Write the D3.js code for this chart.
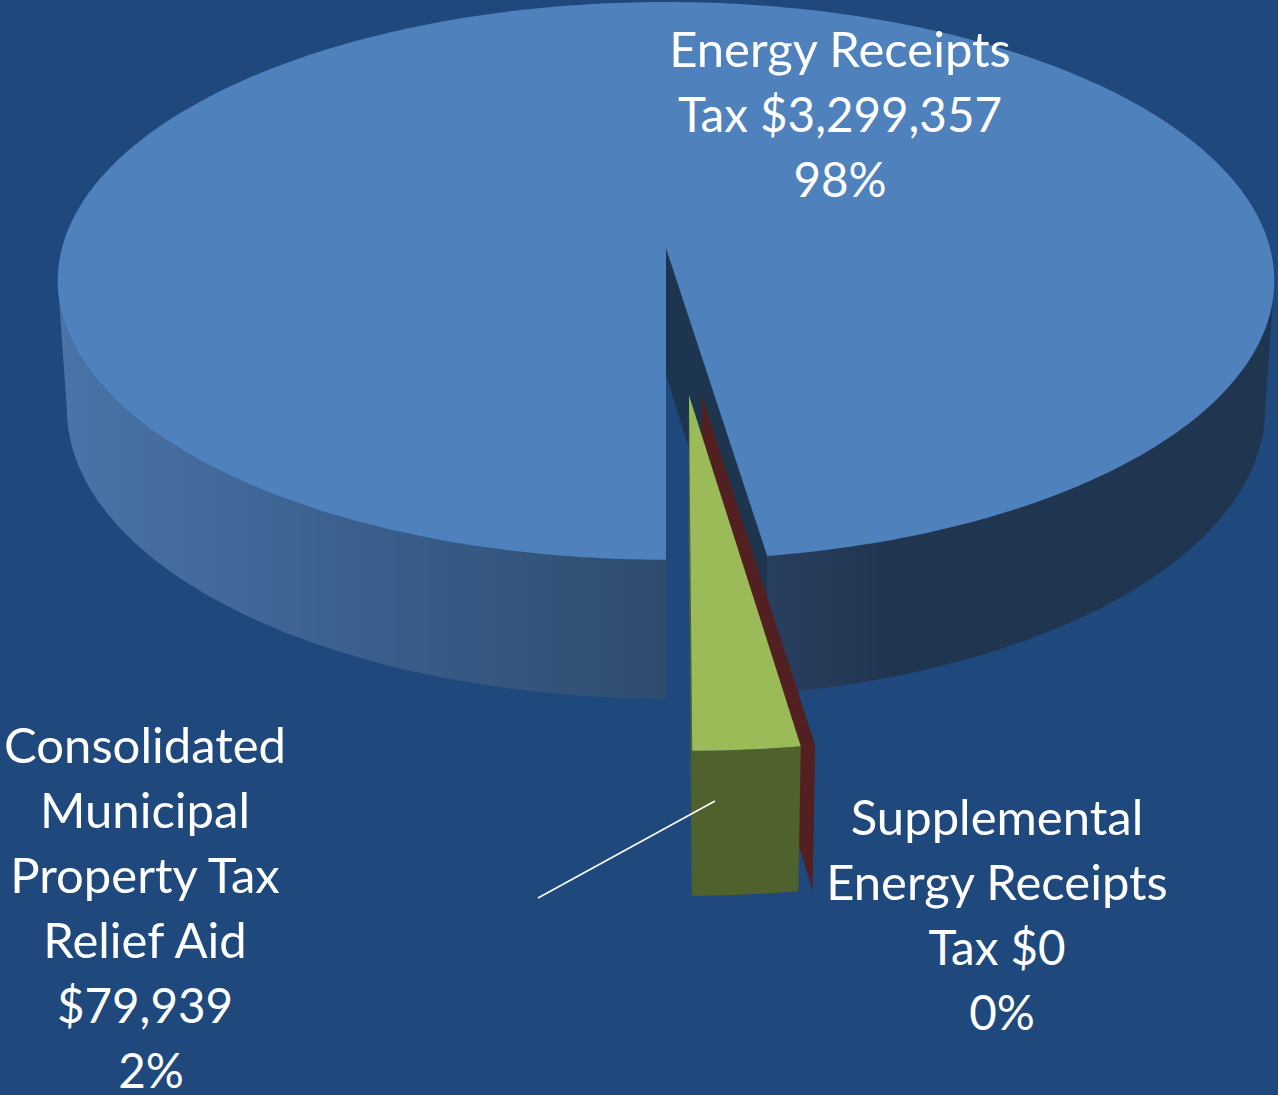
<!DOCTYPE html>
<html><head><meta charset="utf-8">
<script src="https://cdn.jsdelivr.net/npm/d3@7"></script>
<style>html,body{margin:0;padding:0;background:#1f497d}svg{display:block}</style>
</head><body><svg id="c" width="1278" height="1095"></svg>
<script>
const categories = ["Energy Receipts Tax", "Supplemental Energy Receipts Tax", "Consolidated Municipal Property Tax Relief Aid"];
const values = [3299357, 0, 79939];
const labelLines = [
  ["Energy Receipts", "Tax $3,299,357", "98%"],
  ["Supplemental", "Energy Receipts", "Tax $0", "0%"],
  ["Consolidated", "Municipal", "Property Tax", "Relief Aid", "$79,939", "2%"]
];
const labelCentres = [[840,840,840],[997,997,997,1002],[145,145,145,145,145,151]];
const labelFirstBaseline = [67,835,763];
const topColours = ["#4f81bd","#522020","#9bbb59"];
const explodeRadius = [0,0.505,0.505];
const explodeAngleOffset = [0,2.2*Math.PI/180,0.2*Math.PI/180];

const W=1278,H=1095, FS=49, FS_NUM=47.5, LH=65;
const svg=d3.select("#c");
svg.append("rect").attr("width",W).attr("height",H).attr("fill","#1f497d");

// perspective projection of a disc (u,v) at depth h (0 top, 1 bottom)
const p=0.118,q=0.015;
const sx=d3.scaleLinear([-1,1],[666-604,666+604]);
const sy=d3.scaleLinear([-1,1],[248-275,248+275]);
const depth=129;
function proj(u,v,h){const w=1-p*v+q*h;return [sx(u/w), sy(v/w)+depth*h/w];}

const arcs=d3.pie().sort(null).startAngle(Math.PI).endAngle(3*Math.PI)(values);
arcs.forEach((a,i)=>{
  const mid=(a.startAngle+a.endAngle)/2+explodeAngleOffset[i];
  a.du=explodeRadius[i]*Math.sin(mid);
  a.dv=-explodeRadius[i]*Math.cos(mid);
});
const rim=(a,t,h)=>proj(a.du+Math.sin(t),a.dv-Math.cos(t),h);
const apex=(a,h)=>proj(a.du,a.dv,h);
const line=d3.line();
const poly=(pts,fill)=>svg.append("path").attr("d",line(pts)+"Z").attr("fill",fill);
const STEP=Math.PI/180;
const sweepRange=(t0,t1)=>{const n=Math.max(1,Math.ceil(Math.abs(t1-t0)/STEP));
  return d3.range(n+1).map(k=>t0+(t1-t0)*k/n);};
const sweep=a=>sweepRange(a.startAngle,a.endAngle);

const [energy,supp,cons]=arcs;

// wall gradients
const defs=svg.append("defs");
function gradient(id,x1,x2,stops){
  const g=defs.append("linearGradient").attr("id",id).attr("gradientUnits","userSpaceOnUse")
    .attr("x1",x1).attr("x2",x2).attr("y1",0).attr("y2",0);
  g.selectAll("stop").data(stops).join("stop")
    .attr("offset",d=>d[0]).attr("stop-color",d=>d[1]);
}
gradient("wallL",60,666,[[0,"#4a74a8"],[0.5,"#3a5f8d"],[1,"#2e4c6e"]]);
gradient("wallR",767,1275,[[0,"#293f5e"],[0.25,"#1f3550"],[1,"#1f3550"]]);

// Energy slice: outer wall up to the silhouette point on each side, cut wall, top
const silhouette=Math.acos(-p);
const leftT=sweepRange(Math.PI,2*Math.PI-silhouette);
poly([...leftT.map(t=>rim(energy,t,0)),...leftT.slice().reverse().map(t=>rim(energy,t,1))],"url(#wallL)");
const rightT=sweepRange(energy.endAngle,2*Math.PI+silhouette);
poly([...rightT.map(t=>rim(energy,t,0)),...rightT.slice().reverse().map(t=>rim(energy,t,1))],"url(#wallR)");
poly([apex(energy,0),rim(energy,energy.endAngle,0),rim(energy,energy.endAngle,1),apex(energy,1)],"#1e3550");
poly([apex(energy,0),...sweep(energy).map(t=>rim(energy,t,0))],topColours[0]);

// Zero-value slice: only its cut wall shows
poly([apex(supp,0),rim(supp,supp.startAngle,0),rim(supp,supp.startAngle,1),apex(supp,1)],topColours[1]);

// Consolidated slice
const dark="#4f612c";
poly([apex(cons,0),rim(cons,cons.endAngle,0),rim(cons,cons.endAngle,1),apex(cons,1)],dark);
const cs=sweep(cons);
poly([...cs.map(t=>rim(cons,t,0)),...cs.slice().reverse().map(t=>rim(cons,t,1))],dark);
poly([apex(cons,0),...cs.map(t=>rim(cons,t,0))],topColours[2]);

// leader line
const leader=[[538,898],[715,801]];
svg.append("path").attr("d",line(leader)).attr("stroke","#fff").attr("stroke-width",1.6).attr("fill","none");

// labels
labelLines.forEach((lines,i)=>{
  svg.selectAll(null).data(lines).join("text")
    .attr("x",(d,k)=>labelCentres[i][k])
    .attr("y",(d,k)=>labelFirstBaseline[i]+k*LH)
    .attr("text-anchor","middle")
    .attr("fill","#fff")
    .attr("font-family","Lato, 'Open Sans', sans-serif")
    .attr("font-size",d=>/\d/.test(d)?FS_NUM:FS)
    .text(d=>d);
});
</script></body></html>
